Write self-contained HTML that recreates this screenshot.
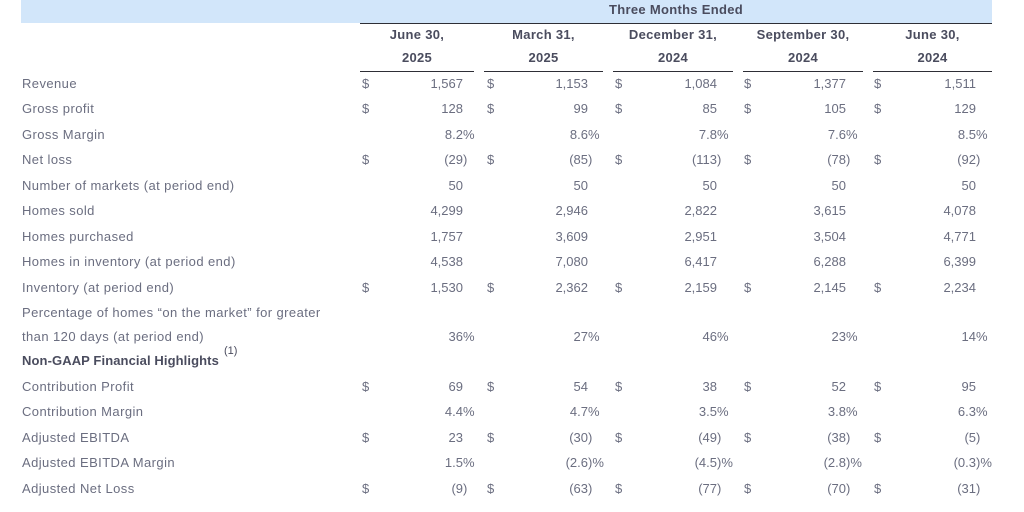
<!DOCTYPE html>
<html>
<head>
<meta charset="utf-8">
<style>
html,body{margin:0;padding:0;background:#fff;}
body{width:1024px;height:512px;position:relative;overflow:hidden;font-family:"Liberation Sans",Arial,sans-serif;font-size:13px;color:#6b6e80;}
.r{position:absolute;left:0;width:1024px;height:20px;line-height:20px;}
.r span{position:absolute;top:0;white-space:nowrap;}
.l{left:22px;letter-spacing:0.42px;}
.d1{left:362px}.d2{left:487px}.d3{left:615px}.d4{left:744px}.d5{left:874px}
.n1{right:561px;text-align:right}.n2{right:436px;text-align:right}.n3{right:307px;text-align:right}.n4{right:178px;text-align:right}.n5{right:48px;text-align:right}
.s1{left:463px}.s2{left:588px}.s3{left:717px}.s4{left:846px}.s5{left:976px}
.band{position:absolute;left:21px;top:0;width:971px;height:23px;background:#d2e6fa;}
.hline{position:absolute;height:1px;background:#2e2e36;}
.h{position:absolute;font-weight:bold;color:#4a4c5e;text-align:center;height:20px;line-height:20px;white-space:nowrap;letter-spacing:0.3px;}
.r span.b{font-weight:bold;color:#4a4c5e;letter-spacing:0.1px;}
.sup{position:absolute;font-size:11px;line-height:11px;color:#4a4c5e;left:224px;top:346px;}
</style>
</head>
<body>
<div class="band"></div>
<div class="h" style="left:360px;width:632px;top:0px;">Three Months Ended</div>
<div class="hline" style="left:360px;width:632px;top:23px;"></div>

<div class="h" style="left:360px;width:114px;top:25px;">June 30,</div>
<div class="h" style="left:484px;width:119px;top:25px;">March 31,</div>
<div class="h" style="left:613px;width:120px;top:25px;">December 31,</div>
<div class="h" style="left:743px;width:120px;top:25px;">September 30,</div>
<div class="h" style="left:873px;width:119px;top:25px;">June 30,</div>

<div class="h" style="left:360px;width:114px;top:48px;">2025</div>
<div class="h" style="left:484px;width:119px;top:48px;">2025</div>
<div class="h" style="left:613px;width:120px;top:48px;">2024</div>
<div class="h" style="left:743px;width:120px;top:48px;">2024</div>
<div class="h" style="left:873px;width:119px;top:48px;">2024</div>

<div class="hline" style="left:360px;width:114px;top:71px;"></div>
<div class="hline" style="left:484px;width:119px;top:71px;"></div>
<div class="hline" style="left:613px;width:120px;top:71px;"></div>
<div class="hline" style="left:743px;width:120px;top:71px;"></div>
<div class="hline" style="left:873px;width:119px;top:71px;"></div>

<div class="r" style="top:74px"><span class="l">Revenue</span>
<span class="d1">$</span><span class="n1">1,567</span>
<span class="d2">$</span><span class="n2">1,153</span>
<span class="d3">$</span><span class="n3">1,084</span>
<span class="d4">$</span><span class="n4">1,377</span>
<span class="d5">$</span><span class="n5">1,511</span></div>

<div class="r" style="top:99px"><span class="l">Gross profit</span>
<span class="d1">$</span><span class="n1">128</span>
<span class="d2">$</span><span class="n2">99</span>
<span class="d3">$</span><span class="n3">85</span>
<span class="d4">$</span><span class="n4">105</span>
<span class="d5">$</span><span class="n5">129</span></div>

<div class="r" style="top:125px"><span class="l">Gross Margin</span>
<span class="n1">8.2</span><span class="s1">%</span>
<span class="n2">8.6</span><span class="s2">%</span>
<span class="n3">7.8</span><span class="s3">%</span>
<span class="n4">7.6</span><span class="s4">%</span>
<span class="n5">8.5</span><span class="s5">%</span></div>

<div class="r" style="top:150px"><span class="l">Net loss</span>
<span class="d1">$</span><span class="n1">(29</span><span class="s1">)</span>
<span class="d2">$</span><span class="n2">(85</span><span class="s2">)</span>
<span class="d3">$</span><span class="n3">(113</span><span class="s3">)</span>
<span class="d4">$</span><span class="n4">(78</span><span class="s4">)</span>
<span class="d5">$</span><span class="n5">(92</span><span class="s5">)</span></div>

<div class="r" style="top:176px"><span class="l">Number of markets (at period end)</span>
<span class="n1">50</span><span class="n2">50</span><span class="n3">50</span><span class="n4">50</span><span class="n5">50</span></div>

<div class="r" style="top:201px"><span class="l">Homes sold</span>
<span class="n1">4,299</span><span class="n2">2,946</span><span class="n3">2,822</span><span class="n4">3,615</span><span class="n5">4,078</span></div>

<div class="r" style="top:227px"><span class="l">Homes purchased</span>
<span class="n1">1,757</span><span class="n2">3,609</span><span class="n3">2,951</span><span class="n4">3,504</span><span class="n5">4,771</span></div>

<div class="r" style="top:252px"><span class="l">Homes in inventory (at period end)</span>
<span class="n1">4,538</span><span class="n2">7,080</span><span class="n3">6,417</span><span class="n4">6,288</span><span class="n5">6,399</span></div>

<div class="r" style="top:278px"><span class="l">Inventory (at period end)</span>
<span class="d1">$</span><span class="n1">1,530</span>
<span class="d2">$</span><span class="n2">2,362</span>
<span class="d3">$</span><span class="n3">2,159</span>
<span class="d4">$</span><span class="n4">2,145</span>
<span class="d5">$</span><span class="n5">2,234</span></div>

<div class="r" style="top:303px"><span class="l">Percentage of homes “on the market” for greater</span></div>
<div class="r" style="top:327px"><span class="l">than 120 days (at period end)</span>
<span class="n1">36</span><span class="s1">%</span>
<span class="n2">27</span><span class="s2">%</span>
<span class="n3">46</span><span class="s3">%</span>
<span class="n4">23</span><span class="s4">%</span>
<span class="n5">14</span><span class="s5">%</span></div>

<div class="r" style="top:351px"><span class="l b">Non-GAAP Financial Highlights</span></div>
<div class="sup">(1)</div>

<div class="r" style="top:377px"><span class="l">Contribution Profit</span>
<span class="d1">$</span><span class="n1">69</span>
<span class="d2">$</span><span class="n2">54</span>
<span class="d3">$</span><span class="n3">38</span>
<span class="d4">$</span><span class="n4">52</span>
<span class="d5">$</span><span class="n5">95</span></div>

<div class="r" style="top:402px"><span class="l">Contribution Margin</span>
<span class="n1">4.4</span><span class="s1">%</span>
<span class="n2">4.7</span><span class="s2">%</span>
<span class="n3">3.5</span><span class="s3">%</span>
<span class="n4">3.8</span><span class="s4">%</span>
<span class="n5">6.3</span><span class="s5">%</span></div>

<div class="r" style="top:428px"><span class="l">Adjusted EBITDA</span>
<span class="d1">$</span><span class="n1">23</span>
<span class="d2">$</span><span class="n2">(30</span><span class="s2">)</span>
<span class="d3">$</span><span class="n3">(49</span><span class="s3">)</span>
<span class="d4">$</span><span class="n4">(38</span><span class="s4">)</span>
<span class="d5">$</span><span class="n5">(5</span><span class="s5">)</span></div>

<div class="r" style="top:453px"><span class="l">Adjusted EBITDA Margin</span>
<span class="n1">1.5</span><span class="s1">%</span>
<span class="n2">(2.6</span><span class="s2">)%</span>
<span class="n3">(4.5</span><span class="s3">)%</span>
<span class="n4">(2.8</span><span class="s4">)%</span>
<span class="n5">(0.3</span><span class="s5">)%</span></div>

<div class="r" style="top:479px"><span class="l">Adjusted Net Loss</span>
<span class="d1">$</span><span class="n1">(9</span><span class="s1">)</span>
<span class="d2">$</span><span class="n2">(63</span><span class="s2">)</span>
<span class="d3">$</span><span class="n3">(77</span><span class="s3">)</span>
<span class="d4">$</span><span class="n4">(70</span><span class="s4">)</span>
<span class="d5">$</span><span class="n5">(31</span><span class="s5">)</span></div>
</body>
</html>
